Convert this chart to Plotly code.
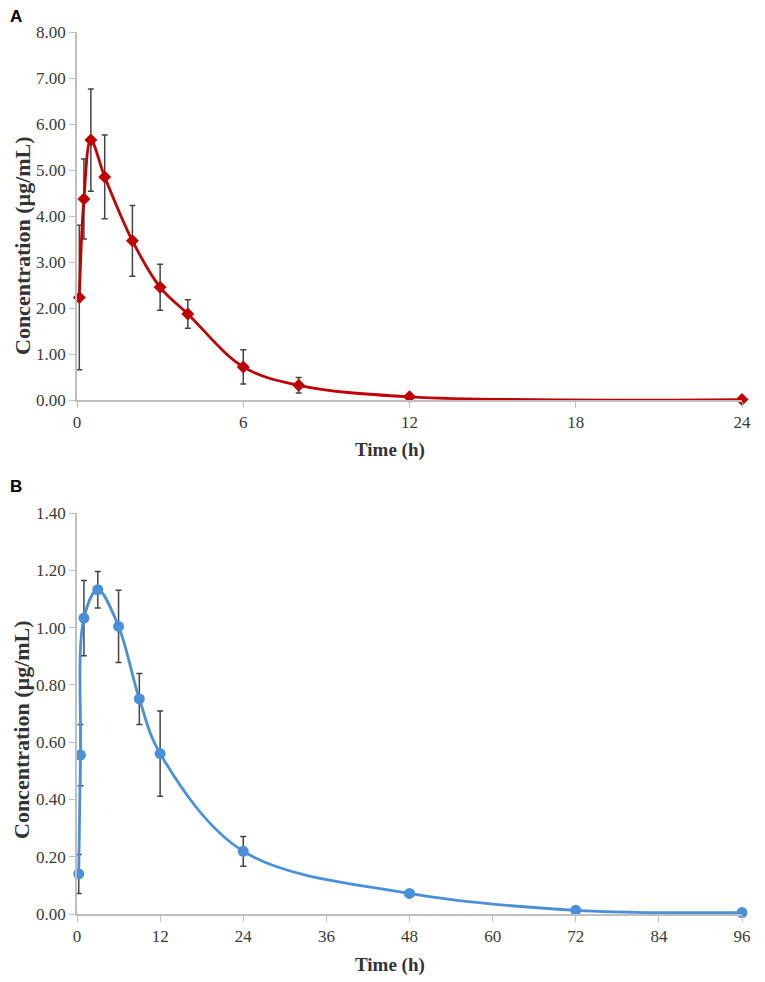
import plotly.graph_objects as go

# Panel A - concentration vs time (0-24 h)
time_a = [0.083, 0.25, 0.5, 1, 2, 3, 4, 6, 8, 12, 24]
conc_a = [2.23, 4.37, 5.65, 4.85, 3.46, 2.45, 1.87, 0.72, 0.32, 0.07, 0.01]
sd_a = [1.57, 0.87, 1.11, 0.91, 0.77, 0.50, 0.31, 0.37, 0.17, 0.0, 0.0]

# Panel B - concentration vs time (0-96 h)
time_b = [0.25, 0.5, 1, 3, 6, 9, 12, 24, 48, 72, 96]
conc_b = [0.14, 0.555, 1.033, 1.132, 1.004, 0.751, 0.560, 0.219, 0.072, 0.013, 0.005]
sd_b = [0.068, 0.107, 0.131, 0.064, 0.126, 0.089, 0.149, 0.052, 0.0, 0.0, 0.0]

ticks_a = [0, 6, 12, 18, 24]
ticks_b = [0, 12, 24, 36, 48, 60, 72, 84, 96]

RED = '#C00000'
BLUE = '#4A90D9'
ERR = '#444444'
AXIS = '#BFBFBF'
SERIF = 'Liberation Serif, Times New Roman, serif'
SANS = 'Liberation Sans, Arial, sans-serif'

# page body has an 8px margin, so the figure sits 8px in from the top-left
OFF = 8
W, H = 765 - OFF, 982 - OFF
L, R = 77 - OFF, 23


def px_x(px):
    # window pixel -> paper x
    return (px - OFF - L) / (W - L - R)


def px_y(py):
    # window pixel -> paper y (no top/bottom margin)
    return (H - (py - OFF)) / H


fig = go.Figure()

fig.add_trace(go.Scatter(
    x=time_a, y=conc_a,
    mode='lines+markers',
    line=dict(color=RED, width=2.8, shape='spline', smoothing=1),
    marker=dict(symbol='diamond', size=10, color=RED),
    error_y=dict(type='data', array=sd_a, color=ERR, thickness=1.5, width=3),
    cliponaxis=False,
    xaxis='x', yaxis='y',
))

fig.add_trace(go.Scatter(
    x=time_b, y=conc_b,
    mode='lines+markers',
    line=dict(color=BLUE, width=2.8, shape='spline', smoothing=1),
    marker=dict(symbol='circle', size=11, color=BLUE),
    error_y=dict(type='data', array=sd_b, color=ERR, thickness=1.5, width=3),
    cliponaxis=False,
    xaxis='x2', yaxis='y2',
))

tick_font = dict(family=SERIF, size=17, color='#3a3a3a')

common = dict(
    showline=True, linecolor=AXIS, linewidth=1.5,
    ticks='outside', ticklen=6, tickcolor=AXIS,
    showgrid=False, zeroline=False,
    tickfont=tick_font,
    automargin=False,
)

fig.update_layout(
    width=W, height=H,
    margin=dict(l=L, r=R, t=0, b=0),
    plot_bgcolor='white', paper_bgcolor='white',
    showlegend=False,
    xaxis=dict(common, domain=[0, 1], anchor='y', range=[0, 24], tickvals=ticks_a),
    yaxis=dict(common, domain=[px_y(400), px_y(32)], anchor='x', range=[0, 8],
               dtick=1, tickformat='.2f'),
    xaxis2=dict(common, domain=[0, 1], anchor='y2', range=[0, 96], tickvals=ticks_b),
    yaxis2=dict(common, domain=[px_y(914), px_y(513)], anchor='x2', range=[0, 1.4],
                dtick=0.2, tickformat='.2f'),
)

title_font = dict(family=SERIF, size=19, color='#333333')
ytitle_font = dict(family=SERIF, size=22, color='#333333')
label_font = dict(family=SANS, size=17, color='black')

# panel letters, axis titles
notes = [
    dict(text='<b>A</b>', x=px_x(16), y=px_y(16)),
    dict(text='<b>B</b>', x=px_x(16), y=px_y(486)),
]
for n in notes:
    fig.add_annotation(n, xref='paper', yref='paper', xanchor='center', yanchor='middle',
                       showarrow=False, font=label_font)

for yc in (450, 965):
    fig.add_annotation(text='<b>Time (h)</b>', x=px_x(390), y=px_y(yc),
                       xref='paper', yref='paper', xanchor='center', yanchor='middle',
                       showarrow=False, font=title_font)

for xc, yc in ((22, 246), (21, 730)):
    fig.add_annotation(text='<b>Concentration (µg/mL)</b>', x=px_x(xc), y=px_y(yc),
                       xref='paper', yref='paper', xanchor='center', yanchor='middle',
                       textangle=-90, showarrow=False, font=ytitle_font)

fig.write_html("out.html")
